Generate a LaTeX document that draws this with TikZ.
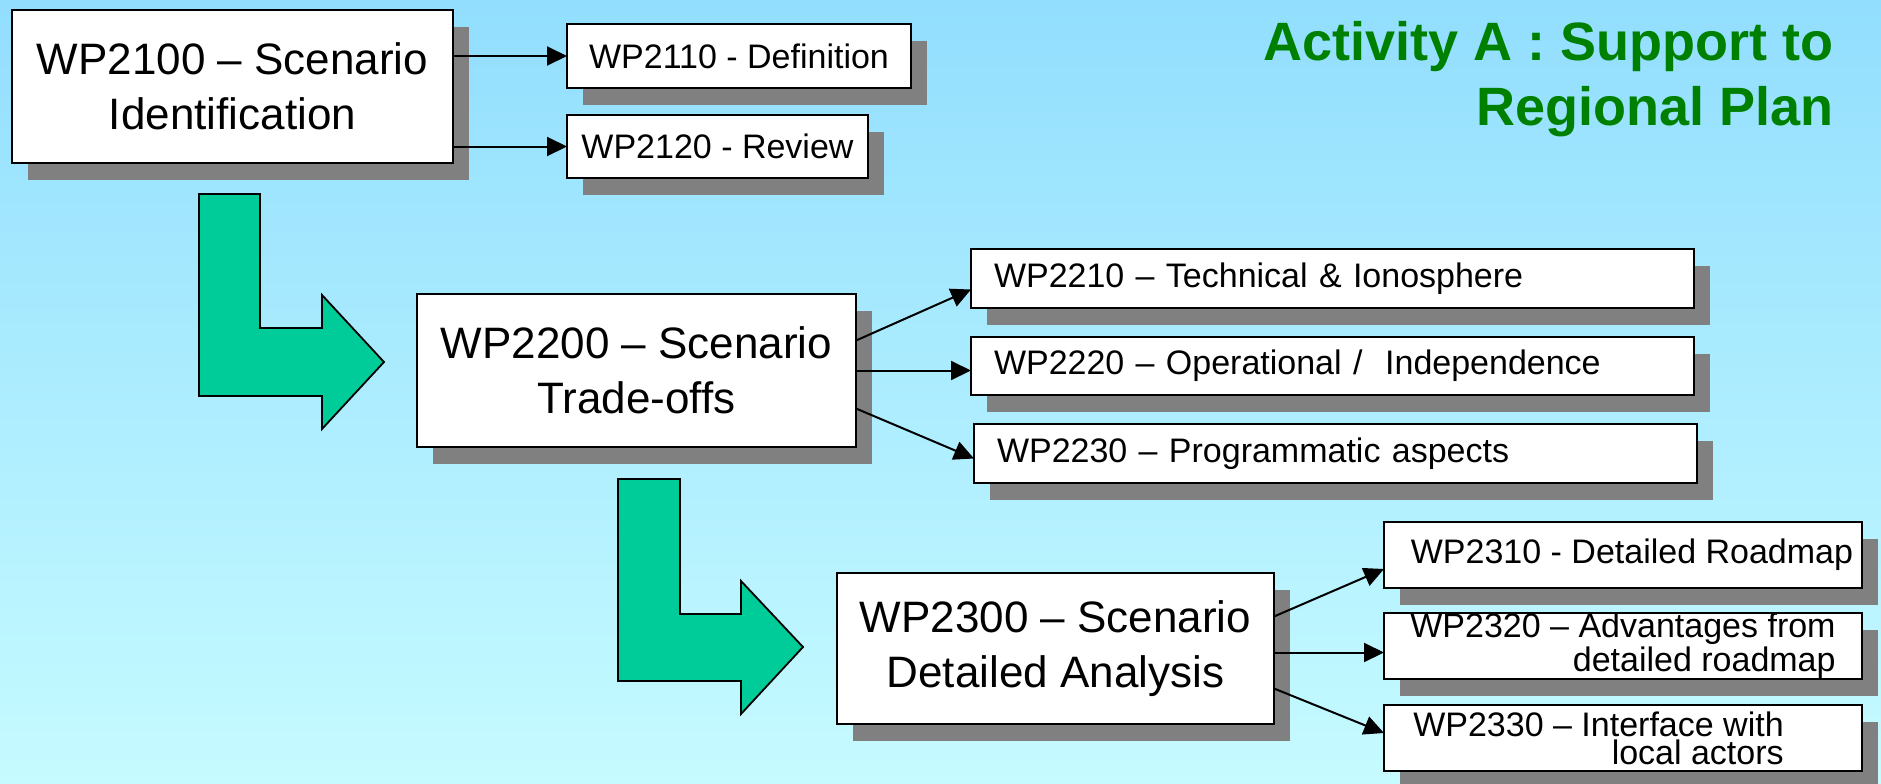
\documentclass[tikz,border=0pt]{standalone}
\usepackage{fontspec}
\setmainfont{Liberation Sans}
\usetikzlibrary{arrows.meta,shadows}
\definecolor{bgtop}{RGB}{146,222,254}
\definecolor{bgbot}{RGB}{198,251,255}
\definecolor{titlegreen}{RGB}{0,128,0}
\definecolor{arrowgreen}{RGB}{0,204,153}
\definecolor{shadowgray}{RGB}{128,128,128}
\begin{document}
\begin{tikzpicture}[x=0.5pt,y=-0.5pt,
  wpbox/.style={draw=black, line width=1.1pt, fill=white, inner sep=0pt, outer sep=0pt,
    drop shadow={shadow xshift=8pt, shadow yshift=-8.5pt, fill=shadowgray, opacity=1}},
  bigbox/.style={wpbox, font=\fontsize{22}{27.5}\selectfont, align=center},
  smallbox/.style={wpbox, font=\fontsize{17}{14}\selectfont, align=right},
  leftbox/.style={align=left, text width=338.5pt, inner xsep=11.5pt},
  conn/.style={line width=1pt, -{Triangle[length=10pt,width=9.5pt]}},
  bendarrow/.style={fill=arrowgreen, draw=black, line width=0.9pt, line join=miter}
]
\useasboundingbox (0,0) rectangle (1881,783);
\shade[top color=bgtop, bottom color=bgbot] (0,0) rectangle (1881,783);

% title
\node[anchor=north east, inner sep=0pt, align=right, text=titlegreen,
      font=\bfseries\fontsize{27}{32.5}\selectfont] (title) at (1834,21)
      {Activity A : Support to\\Regional Plan};

% green bent arrows
\path[bendarrow] (199,194) -- (260,194) -- (260,328) -- (322,328) -- (322,295)
  -- (384,362) -- (322,429) -- (322,396) -- (199,396) -- cycle;
\path[bendarrow] (618,479) -- (680,479) -- (680,614) -- (741,614) -- (741,581)
  -- (803,647) -- (741,714) -- (741,681) -- (618,681) -- cycle;

% level 1
\node[bigbox, minimum width=220.5pt, minimum height=76.5pt] (b2100) at (232.5,86.5)
  {WP2100 – Scenario\\Identification};
\node[smallbox, minimum width=172pt, minimum height=32pt] (b2110) at (739,56)
  {WP2110 - Definition};
\node[smallbox, minimum width=150.5pt, minimum height=31.5pt] (b2120) at (717.5,146.5)
  {WP2120 - Review};

% level 2
\node[bigbox, minimum width=219.5pt, minimum height=76.5pt] (b2200) at (636.5,370.5)
  {WP2200 – Scenario\\Trade-offs};
\node[smallbox, leftbox, minimum width=361.5pt, minimum height=29.5pt] (b2210) at (1332.5,278.5)
  {WP2210 – Technical \& Ionosphere};
\node[smallbox, leftbox, minimum width=361.5pt, minimum height=29pt] (b2220) at (1332.5,366)
  {WP2220 – Operational /\ \ Independence};
\node[smallbox, leftbox, minimum width=361.5pt, minimum height=29.5pt] (b2230) at (1335.5,453.5)
  {WP2230 – Programmatic aspects};

% level 3
\node[bigbox, minimum width=218.5pt, minimum height=75.5pt] (b2300) at (1055.5,648.5)
  {WP2300 – Scenario\\Detailed Analysis};
\node[smallbox, minimum width=239pt, minimum height=33pt] (b2310) at (1623,555)
  {\hspace*{9pt}WP2310 - Detailed Roadmap};
\node[smallbox, minimum width=239pt, minimum height=33pt] (b2320) at (1623,646)
  {WP2320 – Advantages from\\detailed roadmap};
\node[smallbox, minimum width=239pt, minimum height=33pt] (b2330) at (1623,738)
  {WP2330 – Interface with\hspace*{24.5pt}\\local actors\hspace*{24.5pt}};

% connectors
\draw[conn] (b2100.east |- b2110.west) -- (b2110.west);
\draw[conn] (b2100.east |- b2120.west) -- (b2120.west);
\draw[conn] ([yshift=15pt]b2200.east) -- ([yshift=-5.5pt]b2210.west);
\draw[conn] (b2200.east) -- (b2200.east -| b2220.west);
\draw[conn] ([yshift=-19pt]b2200.east) -- ([yshift=-2.5pt]b2230.west);
\draw[conn] ([yshift=16pt]b2300.east) -- ([yshift=-7pt]b2310.west);
\draw[conn] ([yshift=-2pt]b2300.east) -- ([yshift=-2pt]b2300.east -| b2320.west);
\draw[conn] ([yshift=-20pt]b2300.east) -- ([yshift=2.5pt]b2330.west);
\end{tikzpicture}
\end{document}
